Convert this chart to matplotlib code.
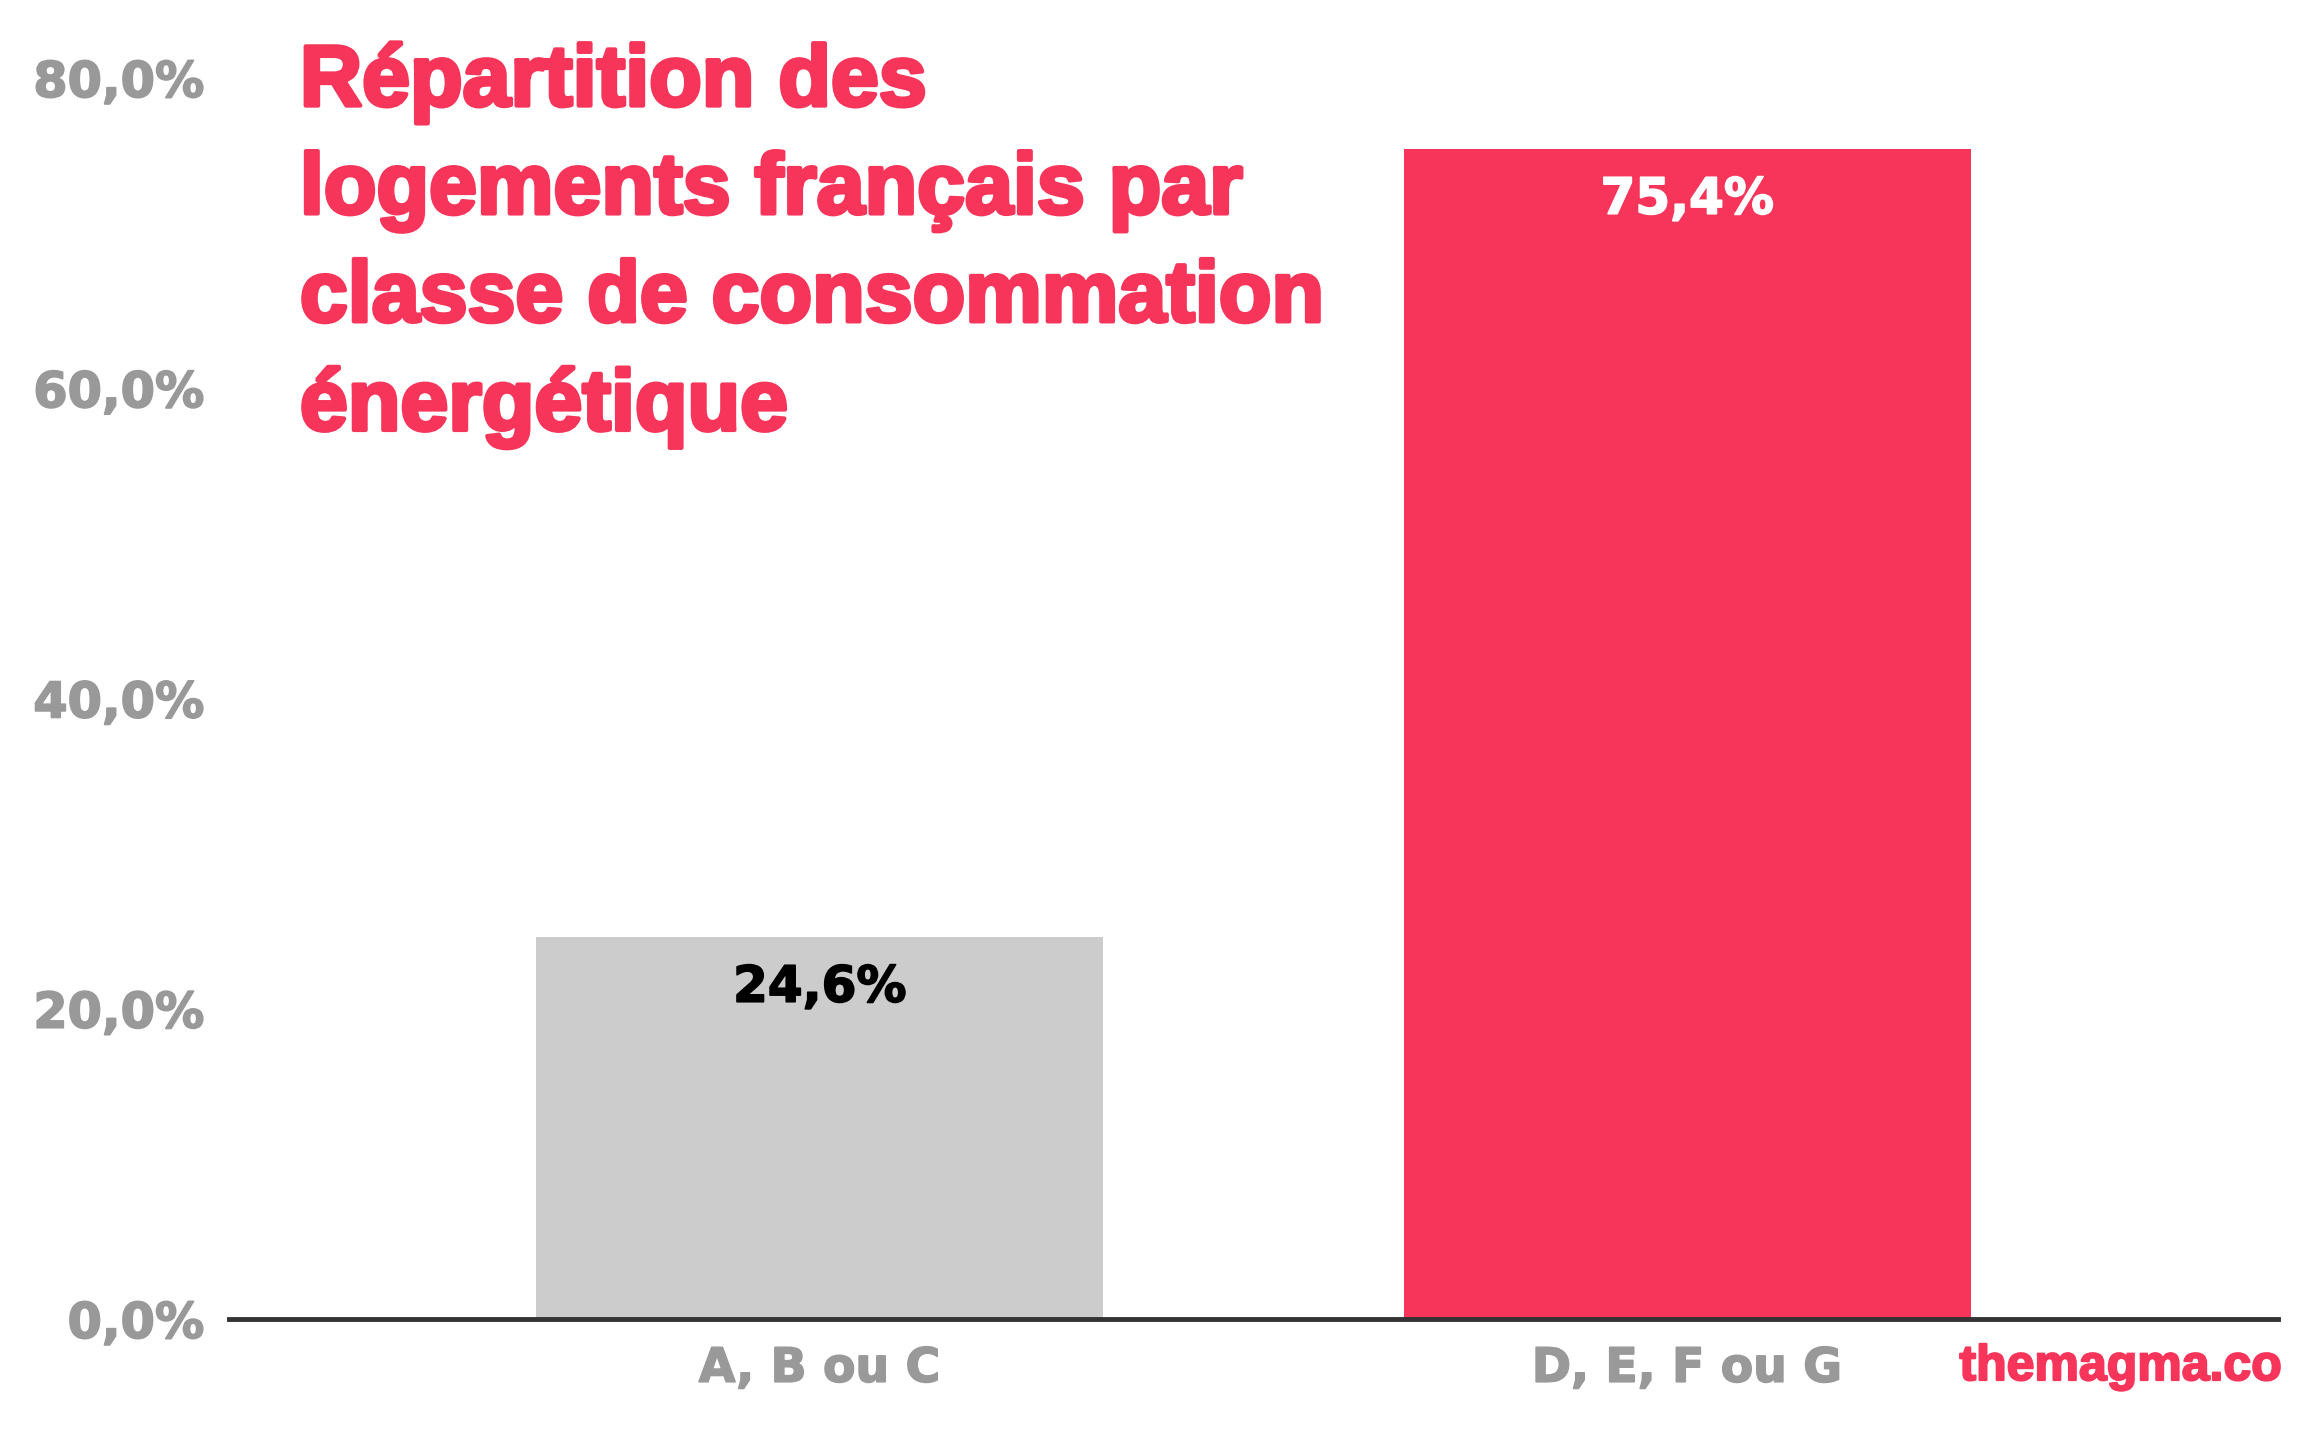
import numpy as np
import matplotlib
matplotlib.use("Agg")
import matplotlib.pyplot as plt
import matplotlib.patheffects as pe

# data
categories = ["A, B ou C", "D, E, F ou G"]
values = [24.6, 75.4]
value_labels = ["24,6%", "75,4%"]
y_ticks = [0, 20, 40, 60, 80]
y_tick_labels = ["0,0%", "20,0%", "40,0%", "60,0%", "80,0%"]
title = "Répartition des\nlogements français par\nclasse de consommation\nénergétique"

red = "#F7355A"
grey_bar = "#CCCCCC"
grey_txt = "#999999"

fig = plt.figure(figsize=(23.16, 14.36), dpi=100)
ax = fig.add_axes([0.0989, 0.0815, 0.8847, 0.8642])

x = np.arange(len(categories))
ax.bar(x, values, width=0.654, color=[grey_bar, red], zorder=2)

# value labels inside the bars
txt_colors = ["black", "white"]
for i in range(len(values)):
    ax.text(x[i], values[i] - 1.7, value_labels[i], ha="center", va="top",
            fontsize=36, fontweight="bold", color=txt_colors[i],
            family="DejaVu Sans",
            path_effects=[pe.withStroke(linewidth=1.2, foreground=txt_colors[i])])

ax.set_xlim(-0.681, 1.681)
ax.set_ylim(0, 80)
ax.set_yticks(y_ticks)
ax.set_yticklabels(y_tick_labels)
ax.set_xticks(x)
ax.set_xticklabels(categories)
ax.tick_params(axis="both", length=0, labelcolor=grey_txt)
ax.tick_params(axis="y", pad=18, labelsize=35.5)
ax.tick_params(axis="x", pad=20, labelsize=34)
for lab in ax.get_xticklabels() + ax.get_yticklabels():
    lab.set_fontweight("bold")
    lab.set_family("DejaVu Sans")
    lab.set_path_effects([pe.withStroke(linewidth=1.2, foreground=grey_txt)])

for s in ["top", "right", "left"]:
    ax.spines[s].set_visible(False)
ax.spines["bottom"].set_color("#333333")
ax.spines["bottom"].set_linewidth(3.5)
ax.spines["bottom"].set_zorder(3)

# title
fig.text(0.1295, 0.970, title, ha="left", va="top", fontsize=62,
         fontweight="bold", color=red, family="Liberation Sans",
         linespacing=1.45,
         path_effects=[pe.withStroke(linewidth=3, foreground=red)])

# watermark
fig.text(0.9853, 0.048, "themagma.co", ha="right", va="center", fontsize=36,
         fontweight="bold", color=red, family="Liberation Sans",
         path_effects=[pe.withStroke(linewidth=1.5, foreground=red)])

fig.savefig("out.png", dpi=100)
